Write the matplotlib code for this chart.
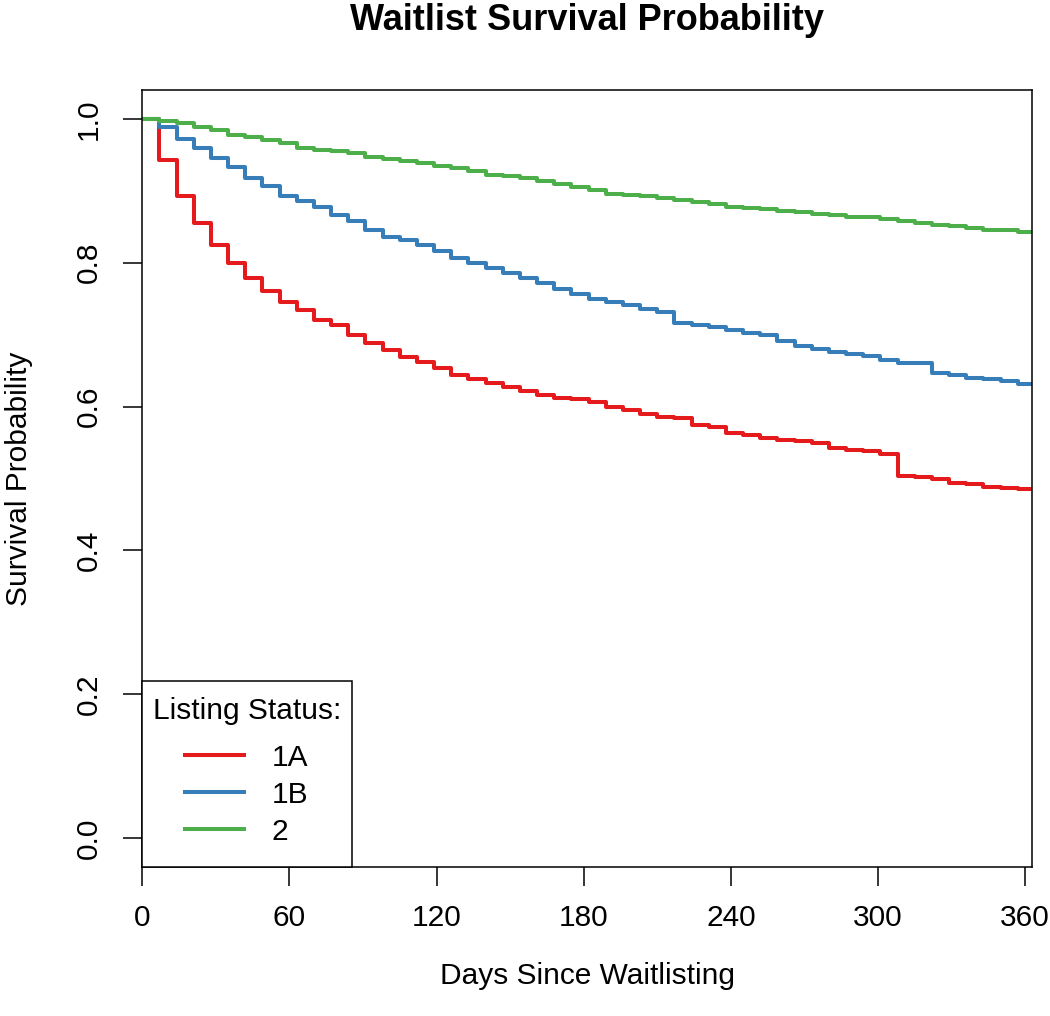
import matplotlib
matplotlib.use("Agg")
import matplotlib.pyplot as plt
from matplotlib.offsetbox import DrawingArea

plt.rcParams['font.family'] = ['Liberation Sans', 'DejaVu Sans']

# Kaplan-Meier estimates, read off weekly steps
days = [0, 7, 14, 21, 28, 35, 42, 49, 56, 63, 70, 77, 84, 91, 98, 105, 112,
        119, 126, 133, 140, 147, 154, 161, 168, 175, 182, 189, 196, 203, 210,
        217, 224, 231, 238, 245, 252, 259, 266, 273, 280, 287, 294, 301, 308,
        315, 322, 329, 336, 343, 350, 357, 365]

surv_1a = [1.0, 0.943, 0.893, 0.855, 0.824, 0.799, 0.778, 0.760, 0.745, 0.734,
           0.721, 0.713, 0.700, 0.688, 0.679, 0.669, 0.662, 0.654, 0.644, 0.638,
           0.633, 0.627, 0.622, 0.616, 0.612, 0.610, 0.607, 0.599, 0.595, 0.590,
           0.586, 0.584, 0.574, 0.571, 0.563, 0.560, 0.556, 0.554, 0.552, 0.549,
           0.542, 0.540, 0.538, 0.534, 0.504, 0.502, 0.499, 0.494, 0.493, 0.488,
           0.487, 0.485, 0.485]

surv_1b = [1.0, 0.988, 0.972, 0.959, 0.946, 0.933, 0.918, 0.906, 0.893, 0.886,
           0.877, 0.866, 0.858, 0.845, 0.835, 0.832, 0.824, 0.816, 0.807, 0.800,
           0.793, 0.785, 0.779, 0.772, 0.764, 0.757, 0.749, 0.746, 0.741, 0.736,
           0.731, 0.716, 0.713, 0.710, 0.706, 0.702, 0.699, 0.691, 0.684, 0.680,
           0.676, 0.673, 0.670, 0.665, 0.661, 0.660, 0.646, 0.644, 0.639, 0.638,
           0.636, 0.632, 0.632]

surv_2 = [1.0, 0.997, 0.994, 0.988, 0.984, 0.978, 0.974, 0.970, 0.966, 0.960,
          0.957, 0.955, 0.952, 0.947, 0.944, 0.942, 0.939, 0.935, 0.932, 0.928,
          0.922, 0.920, 0.917, 0.913, 0.909, 0.905, 0.901, 0.896, 0.894, 0.892,
          0.890, 0.887, 0.884, 0.881, 0.878, 0.876, 0.874, 0.872, 0.871, 0.868,
          0.866, 0.864, 0.863, 0.861, 0.858, 0.855, 0.853, 0.851, 0.848, 0.846,
          0.845, 0.843, 0.843]

groups = ['1A', '1B', '2']
colors = ['#E41A1C', '#377EB8', '#4DAF4A']
x_ticks = [0, 60, 120, 180, 240, 300, 360]
y_ticks = [0.0, 0.2, 0.4, 0.6, 0.8, 1.0]

fs = 21.5

fig = plt.figure(figsize=(10.5, 10.16), dpi=100)
ax = fig.add_axes([142.3 / 1050, (1016 - 867) / 1016, 889.4 / 1050, 777 / 1016])

for surv, col, name in zip([surv_1a, surv_1b, surv_2], colors, groups):
    ax.step(days, surv, where='post', color=col, lw=2.9, label=name)

ax.set_xlim(0, 362.7)
ax.set_ylim(-0.04, 1.04)
ax.set_xticks(x_ticks)
ax.set_xticklabels([str(t) for t in x_ticks])
ax.set_yticks(y_ticks)
ax.set_yticklabels([f'{t:.1f}' for t in y_ticks], rotation=90, va='center')

for sp in ax.spines.values():
    sp.set_linewidth(1.1)
    sp.set_color('black')
ax.tick_params(axis='both', direction='out', length=13.5, width=1.1,
               labelsize=fs, colors='black')
ax.tick_params(axis='x', pad=13)
ax.tick_params(axis='y', pad=15)

ax.set_xlabel('Days Since Waitlisting', fontsize=fs, va='center')
ax.xaxis.set_label_coords(0.5, -(976 - 867) / 777)
ax.set_ylabel('Survival Probability', fontsize=fs, va='center')
ax.yaxis.set_label_coords(-(142.3 - 19) / 889.4, 0.5)

ax.set_title('Waitlist Survival Probability', fontsize=26, fontweight='bold',
             pad=43)

leg = ax.legend(title='Listing Status:', loc='lower left', bbox_to_anchor=(0, 0),
                borderaxespad=0, fontsize=fs, title_fontsize=fs, fancybox=False,
                framealpha=1, edgecolor='black', handlelength=1.95,
                handletextpad=0.95, labelspacing=0.3, borderpad=0.35,
                alignment='center')
leg.get_frame().set_linewidth(1.1)

# extra vertical room inside the legend box (px -> points at 100 dpi)
px = 72 / 100
box = leg._legend_box
box.sep = 0
box._children = [DrawingArea(1, 5 * px), box._children[0],
                 DrawingArea(1, 19 * px), box._children[1],
                 DrawingArea(1, 11 * px)]

fig.savefig('out.png', dpi=100)
